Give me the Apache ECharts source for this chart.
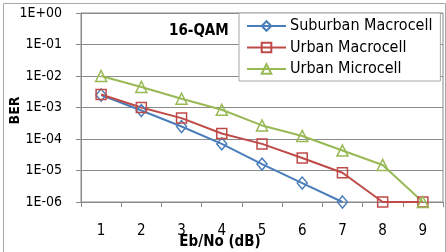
<!DOCTYPE html>
<html>
<head>
<meta charset="utf-8">
<script src="https://cdn.jsdelivr.net/npm/echarts@6/dist/echarts.min.js"></script>
<style>
  html, body { margin: 0; padding: 0; background: #fff; }
  #chart { width: 446px; height: 252px; }
</style>
</head>
<body>
<div id="chart"></div>
<script>
  // Eb/No (dB) categories
  var ebno = ['1', '2', '3', '4', '5', '6', '7', '8', '9'];
  // BER per channel model
  var suburbanMacro = [2.5e-3, 8e-4, 2.5e-4, 7e-5, 1.6e-5, 4e-6, 1e-6, null, null];
  var urbanMacro = [2.6e-3, 1e-3, 4.6e-4, 1.5e-4, 7e-5, 2.5e-5, 8.5e-6, 1e-6, 1e-6];
  var urbanMicro = [1e-2, 4.5e-3, 1.9e-3, 8.5e-4, 2.7e-4, 1.25e-4, 4.3e-5, 1.5e-5, 1e-6];

  var font = '"DejaVu Sans Condensed", "DejaVu Sans", sans-serif';
  var gridGray = '#8a8a8a';

  function lineSeries(name, data, color, symbol, size) {
    return {
      name: name,
      type: 'line',
      data: data,
      symbol: symbol,
      symbolSize: size,
      lineStyle: { color: color, width: 2 },
      itemStyle: { color: 'rgba(255,255,255,0)', borderColor: color, borderWidth: 1.5 },
      emphasis: { disabled: true }
    };
  }

  var myChart = echarts.init(document.getElementById('chart'));
  var option = {
    animation: false,
    textStyle: { fontFamily: font },
    graphic: [{
      type: 'rect',
      left: 1, top: 1,
      shape: { width: 442, height: 270 },
      style: { fill: 'none', stroke: '#a8a8a8', lineWidth: 1 },
      z: -1
    }],
    title: {
      text: '16-QAM',
      left: 164, top: 19,
      textStyle: { fontFamily: font, fontSize: 15, fontWeight: 'bold', color: '#000' }
    },
    legend: {
      orient: 'vertical',
      left: 239, top: 13,
      padding: [5, 8, 4, 7],
      itemWidth: 39,
      itemHeight: 12,
      itemGap: 5.5,
      backgroundColor: '#fff',
      borderColor: '#a8a8a8',
      borderWidth: 1,
      textStyle: { fontFamily: font, fontSize: 16, color: '#000', padding: [0, 0, 0, -1] },
      data: ['Suburban Macrocell', 'Urban Macrocell', 'Urban Microcell']
    },
    grid: {
      left: 81, right: 3, top: 13, bottom: 50,
      outerBoundsMode: 'none',
      containLabel: false,
      show: true, borderColor: gridGray, borderWidth: 1
    },
    xAxis: {
      type: 'category',
      data: ebno,
      boundaryGap: true,
      name: 'Eb/No (dB)',
      nameLocation: 'middle',
      nameGap: 33,
      nameMoveOverlap: false,
      nameTextStyle: { fontFamily: font, fontSize: 15, fontWeight: 'bold', color: '#000', padding: [0, 84, 0, 0] },
      axisLine: { lineStyle: { color: gridGray } },
      axisTick: { show: true, length: 5, alignWithLabel: false, lineStyle: { color: gridGray } },
      axisLabel: { margin: 22, fontSize: 15, color: '#000', fontFamily: font }
    },
    yAxis: {
      type: 'log',
      logBase: 10,
      min: 1e-6,
      max: 1,
      name: 'BER',
      nameLocation: 'middle',
      nameGap: 59,
      nameRotate: 90,
      nameMoveOverlap: false,
      nameTextStyle: { fontFamily: font, fontSize: 14, fontWeight: 'bold', color: '#000', padding: [0, 6, 0, 0] },
      axisLine: { show: true, lineStyle: { color: gridGray } },
      axisTick: { show: true, length: 5, lineStyle: { color: gridGray } },
      splitLine: { show: true, lineStyle: { color: gridGray } },
      axisLabel: {
        margin: 19, fontSize: 14, color: '#000', fontFamily: font,
        formatter: function (v) {
          var e = Math.round(Math.log10(v));
          var s = e < 0 ? '-' : '+';
          var a = Math.abs(e);
          return '1E' + s + (a < 10 ? '0' + a : a);
        }
      }
    },
    series: [
      lineSeries('Suburban Macrocell', suburbanMacro, '#4a7ebb', 'diamond', [10, 12]),
      lineSeries('Urban Macrocell', urbanMacro, '#be4b48', 'rect', 10),
      lineSeries('Urban Microcell', urbanMicro, '#98b954', 'triangle', 11)
    ]
  };
  myChart.setOption(option);
</script>
</body>
</html>
